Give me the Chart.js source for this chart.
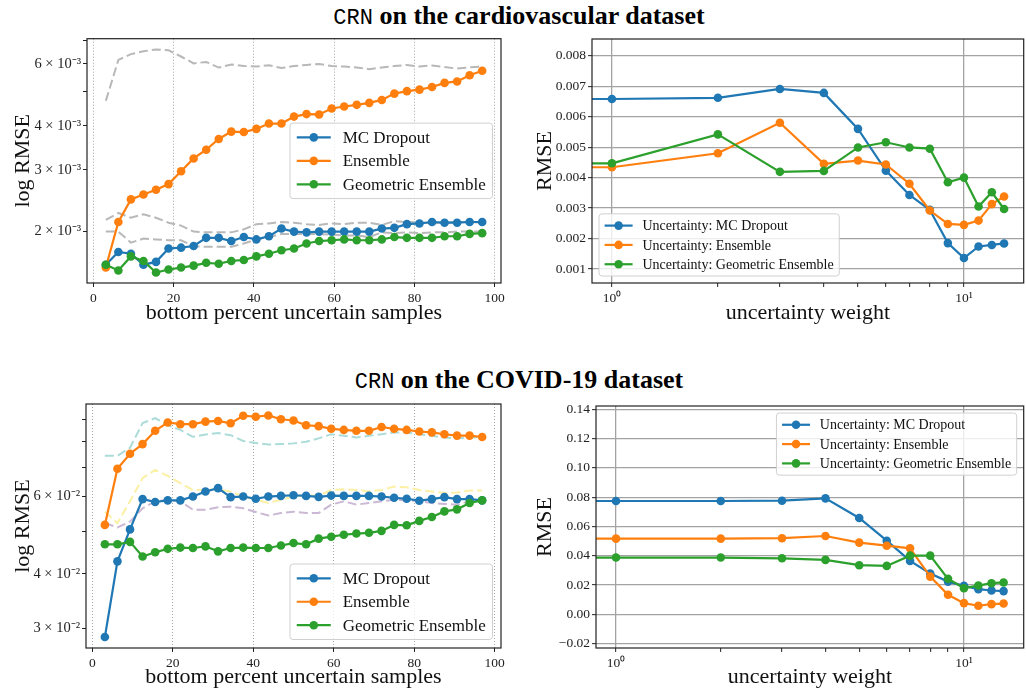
<!DOCTYPE html>
<html>
<head>
<meta charset="utf-8">
<script src="https://cdn.jsdelivr.net/npm/chart.js@4"></script>
<style>
  html, body { margin: 0; padding: 0; background: #fff; }
  body { width: 1026px; height: 689px; position: relative; overflow: hidden; }
  .title { position: absolute; left: 6px; width: 1026px; text-align: center; font: bold 26px "Liberation Serif", serif; color: #000; white-space: nowrap; }
  .title code { font: normal 22px "Liberation Mono", monospace; }
  .panel { position: absolute; }
</style>
</head>
<body>
<div class="title" style="top:1px"><code>CRN</code> on the cardiovascular dataset</div>
<div class="panel" style="left:0;top:28px;width:510px;height:304px"><canvas id="cardio-pct"></canvas></div>
<div class="panel" style="left:520px;top:28px;width:508px;height:304px"><canvas id="cardio-weight"></canvas></div>
<div class="title" style="top:365px"><code>CRN</code> on the COVID-19 dataset</div>
<div class="panel" style="left:0;top:392px;width:510px;height:304px"><canvas id="covid-pct"></canvas></div>
<div class="panel" style="left:520px;top:392px;width:508px;height:304px"><canvas id="covid-weight"></canvas></div>
<script>
// bottom percent of uncertain samples kept (x of the left panels)
var pctX = [3.125, 6.25, 9.375, 12.5, 15.625, 18.75, 21.875, 25, 28.125, 31.25, 34.375, 37.5, 40.625,
    43.75, 46.875, 50, 53.125, 56.25, 59.375, 62.5, 65.625, 68.75, 71.875, 75, 78.125, 81.25,
    84.375, 87.5, 90.625, 93.75, 96.875];
var pctTicks = [0, 20, 40, 60, 80, 100];

// cardiovascular, log RMSE
var cardioMc = [1.61e-3, 1.75e-3, 1.73e-3, 1.61e-3, 1.64e-3, 1.79e-3, 1.80e-3, 1.82e-3, 1.92e-3, 1.92e-3,
    1.88e-3, 1.93e-3, 1.90e-3, 1.94e-3, 2.04e-3, 2.00e-3, 1.99e-3, 2.00e-3, 2.00e-3, 2.00e-3, 2.00e-3,
    2.00e-3, 2.04e-3, 2.05e-3, 2.10e-3, 2.11e-3, 2.13e-3, 2.12e-3, 2.12e-3, 2.13e-3, 2.13e-3];
var cardioEns = [1.58e-3, 2.13e-3, 2.47e-3, 2.55e-3, 2.63e-3, 2.73e-3, 2.97e-3, 3.23e-3, 3.42e-3, 3.67e-3,
    3.85e-3, 3.84e-3, 3.92e-3, 4.06e-3, 4.06e-3, 4.25e-3, 4.32e-3, 4.31e-3, 4.48e-3, 4.54e-3, 4.59e-3,
    4.65e-3, 4.74e-3, 4.94e-3, 5.02e-3, 5.07e-3, 5.16e-3, 5.30e-3, 5.35e-3, 5.57e-3, 5.74e-3];
var cardioGeo = [1.61e-3, 1.55e-3, 1.70e-3, 1.65e-3, 1.53e-3, 1.56e-3, 1.58e-3, 1.60e-3, 1.63e-3, 1.62e-3,
    1.65e-3, 1.66e-3, 1.70e-3, 1.73e-3, 1.77e-3, 1.79e-3, 1.85e-3, 1.88e-3, 1.89e-3, 1.90e-3, 1.89e-3,
    1.89e-3, 1.90e-3, 1.93e-3, 1.92e-3, 1.92e-3, 1.92e-3, 1.94e-3, 1.94e-3, 1.97e-3, 1.98e-3];
// dashed grey reference curves
var cardioRefA = [4.71e-3, 6.16e-3, 6.40e-3, 6.52e-3, 6.60e-3, 6.56e-3, 6.30e-3, 6.02e-3, 6.08e-3, 5.86e-3,
    5.98e-3, 5.92e-3, 5.90e-3, 5.95e-3, 5.84e-3, 5.92e-3, 5.96e-3, 6.00e-3, 5.92e-3, 5.90e-3, 5.86e-3,
    5.80e-3, 5.86e-3, 5.92e-3, 5.96e-3, 5.90e-3, 5.94e-3, 5.88e-3, 5.82e-3, 5.87e-3, 5.90e-3];
var cardioRefB = [2.16e-3, 2.26e-3, 2.19e-3, 2.24e-3, 2.19e-3, 2.12e-3, 2.08e-3, 2.00e-3, 1.99e-3, 1.99e-3,
    1.99e-3, 2.03e-3, 2.10e-3, 2.11e-3, 2.13e-3, 2.12e-3, 2.10e-3, 2.09e-3, 2.11e-3, 2.10e-3, 2.12e-3,
    2.12e-3, 2.09e-3, 2.14e-3, 2.13e-3, 2.12e-3, 2.11e-3, 2.12e-3, 2.13e-3, 2.13e-3, 2.12e-3];
var cardioRefC = [2.00e-3, 2.00e-3, 1.86e-3, 1.91e-3, 1.90e-3, 1.89e-3, 1.89e-3, 1.82e-3, 1.81e-3, 1.81e-3,
    1.81e-3, 1.85e-3, 1.90e-3, 1.93e-3, 1.97e-3, 1.97e-3, 1.97e-3, 1.97e-3, 1.96e-3, 1.95e-3, 1.95e-3,
    1.93e-3, 1.99e-3, 1.98e-3, 1.99e-3, 1.98e-3, 1.99e-3, 1.99e-3, 2.00e-3, 2.00e-3, 2.00e-3];
var cardioLogTicks = [2e-3, 3e-3, 4e-3, 5e-3, 6e-3, 7e-3];
var cardioLogLabels = ['2 × 10⁻³', '3 × 10⁻³', '4 × 10⁻³', '', '6 × 10⁻³', ''];

// uncertainty weight (x of the right panels), 0 sits off the log axis to the left
var weights = [0, 1, 2, 3, 4, 5, 6, 7, 8, 9, 10, 11, 12, 13];
var weightTicks = [1, 2, 3, 4, 5, 6, 7, 8, 9, 10];
var weightLabels = ['10⁰', '', '', '', '', '', '', '', '', '10¹'];

var cardioWMc = [6.58e-3, 6.58e-3, 6.62e-3, 6.91e-3, 6.78e-3, 5.60e-3, 4.23e-3, 3.43e-3, 2.94e-3, 1.85e-3,
    1.36e-3, 1.74e-3, 1.79e-3, 1.84e-3];
var cardioWEns = [4.34e-3, 4.34e-3, 4.80e-3, 5.80e-3, 4.45e-3, 4.56e-3, 4.43e-3, 3.80e-3, 2.92e-3, 2.48e-3,
    2.45e-3, 2.59e-3, 3.13e-3, 3.38e-3];
var cardioWGeo = [4.47e-3, 4.47e-3, 5.42e-3, 4.19e-3, 4.22e-3, 4.99e-3, 5.16e-3, 4.99e-3, 4.95e-3, 3.85e-3,
    4.00e-3, 3.05e-3, 3.52e-3, 2.97e-3];
var cardioWTicks = [0.001, 0.002, 0.003, 0.004, 0.005, 0.006, 0.007, 0.008];

// COVID-19, log RMSE
var covidMc = [0.0287, 0.0427, 0.0505, 0.0592, 0.0583, 0.0588, 0.0588, 0.0600, 0.0616, 0.0627, 0.0598,
    0.0600, 0.0593, 0.0600, 0.0602, 0.0604, 0.0602, 0.0599, 0.0603, 0.0602, 0.0602, 0.0602, 0.0600,
    0.0596, 0.0593, 0.0587, 0.0592, 0.0598, 0.0592, 0.0592, 0.0588];
var covidEns = [0.0517, 0.0694, 0.0751, 0.0790, 0.0847, 0.0885, 0.0877, 0.0877, 0.0889, 0.0892, 0.0881,
    0.0917, 0.0912, 0.0918, 0.0900, 0.0894, 0.0872, 0.0868, 0.0856, 0.0851, 0.0847, 0.0847, 0.0864,
    0.0856, 0.0851, 0.0844, 0.0840, 0.0832, 0.0826, 0.0826, 0.0820];
var covidGeo = [0.0467, 0.0467, 0.0473, 0.0438, 0.0448, 0.0456, 0.0459, 0.0458, 0.0462, 0.0450, 0.0458,
    0.0459, 0.0458, 0.0458, 0.0464, 0.0470, 0.0467, 0.0481, 0.0486, 0.0491, 0.0494, 0.0496, 0.0501,
    0.0517, 0.0516, 0.0528, 0.0539, 0.0555, 0.0561, 0.0580, 0.0588];
var covidRefA = [0.0743, 0.0743, 0.0775, 0.0882, 0.0905, 0.0873, 0.0851, 0.0821, 0.0831, 0.0837, 0.0828,
    0.0803, 0.0795, 0.0788, 0.0790, 0.0793, 0.0800, 0.0814, 0.0832, 0.0825, 0.0818, 0.0825, 0.0832,
    0.0840, 0.0840, 0.0832, 0.0825, 0.0818, 0.0814, 0.0818, 0.0820];
var covidRefB = [0.0554, 0.0522, 0.0585, 0.0661, 0.0690, 0.0669, 0.0644, 0.0621, 0.0621, 0.0623, 0.0616,
    0.0600, 0.0590, 0.0580, 0.0590, 0.0600, 0.0605, 0.0602, 0.0621, 0.0623, 0.0621, 0.0616, 0.0621,
    0.0632, 0.0630, 0.0621, 0.0616, 0.0611, 0.0613, 0.0619, 0.0619];
var covidRefC = [0.0522, 0.0510, 0.0526, 0.0564, 0.0585, 0.0590, 0.0585, 0.0560, 0.0560, 0.0567, 0.0569,
    0.0564, 0.0553, 0.0543, 0.0550, 0.0554, 0.0550, 0.0550, 0.0575, 0.0585, 0.0575, 0.0580, 0.0585,
    0.0590, 0.0588, 0.0585, 0.0580, 0.0577, 0.0575, 0.0585, 0.0587];
var covidLogTicks = [0.03, 0.04, 0.05, 0.06, 0.07, 0.08, 0.09];
var covidLogLabels = ['3 × 10⁻²', '4 × 10⁻²', '', '6 × 10⁻²', '', '', ''];

var covidWMc = [0.0774, 0.0774, 0.0774, 0.0776, 0.0792, 0.0658, 0.0503, 0.0365, 0.0279, 0.0224, 0.0195,
    0.0172, 0.0163, 0.0159];
var covidWEns = [0.0517, 0.0517, 0.0517, 0.0520, 0.0535, 0.0490, 0.0469, 0.0451, 0.0258, 0.0134, 0.0077,
    0.0059, 0.0070, 0.0074];
var covidWGeo = [0.0388, 0.0388, 0.0388, 0.0383, 0.0372, 0.0336, 0.0331, 0.0401, 0.0401, 0.0243, 0.0179,
    0.0197, 0.0213, 0.0218];
var covidWTicks = [-0.02, 0, 0.02, 0.04, 0.06, 0.08, 0.10, 0.12, 0.14];

var BLUE = '#1f77b4', ORANGE = '#ff7f0e', GREEN = '#2ca02c';
var SERIF = '"Liberation Serif", "Times New Roman", serif';
var MARK = 4.3;
Chart.defaults.font.family = SERIF;
Chart.defaults.color = '#222';

function pairs(xs, ys) {
    return xs.map(function (x, i) { return { x: x, y: ys[i] }; });
}

function method(label, color, xs, ys, order) {
    return {
        label: label, data: pairs(xs, ys), order: order,
        borderColor: color, backgroundColor: color, borderWidth: 2.2,
        // the weight-0 point lies off the log axis: draw the line to it but no marker
        pointRadius: function (c) { return c.raw && c.raw.x === 0 ? 0 : MARK; },
        pointBorderWidth: 0, pointHoverRadius: MARK,
    };
}

function reference(color, xs, ys) {
    return {
        label: '', data: pairs(xs, ys), order: 9,
        borderColor: color, borderWidth: 2, borderDash: [9, 4], pointRadius: 0, pointHoverRadius: 0,
    };
}

// matplotlib-like closed box round the plot area
var frame = {
    id: 'frame',
    afterDatasetsDraw: function (chart) {
        var a = chart.chartArea, ctx = chart.ctx;
        ctx.save();
        ctx.strokeStyle = '#222';
        ctx.lineWidth = 1.2;
        ctx.strokeRect(a.left, a.top, a.right - a.left, a.bottom - a.top);
        ctx.restore();
    }
};

// legend drawn inside the axes, like matplotlib's
var boxLegend = {
    id: 'boxLegend',
    afterDraw: function (chart, args, o) {
        var ctx = chart.ctx, a = chart.chartArea, fs = o.size;
        var items = chart.data.datasets.filter(function (d) { return d.label; });
        ctx.save();
        ctx.font = fs + 'px ' + SERIF;
        var textW = Math.max.apply(null, items.map(function (d) { return ctx.measureText(d.label).width; }));
        var pad = 0.4 * fs, handle = 2 * fs, gap = 0.7 * fs, row = 1.38 * fs, margin = 0.5 * fs;
        var w = 2 * pad + handle + gap + textW;
        var h = 2 * pad + items.length * row - 0.5 * fs;
        var x = o.loc.indexOf('right') >= 0 ? a.right - margin - w : a.left + margin;
        var y = o.loc.indexOf('upper') === 0 ? a.top + margin
            : o.loc.indexOf('lower') === 0 ? a.bottom - margin - h : (a.top + a.bottom - h) / 2;
        ctx.beginPath();
        if (ctx.roundRect) ctx.roundRect(x, y, w, h, 3); else ctx.rect(x, y, w, h);
        ctx.fillStyle = 'rgba(255,255,255,0.8)';
        ctx.fill();
        ctx.strokeStyle = '#d0d0d0';
        ctx.lineWidth = 1;
        ctx.stroke();
        items.forEach(function (d, i) {
            var cy = y + pad + 0.44 * fs + i * row;
            var hx = x + pad;
            ctx.strokeStyle = d.borderColor;
            ctx.lineWidth = 2.2;
            ctx.beginPath();
            ctx.moveTo(hx, cy);
            ctx.lineTo(hx + handle, cy);
            ctx.stroke();
            ctx.fillStyle = d.borderColor;
            ctx.beginPath();
            ctx.arc(hx + handle / 2, cy, MARK, 0, Math.PI * 2);
            ctx.fill();
            ctx.fillStyle = '#111';
            ctx.textBaseline = 'middle';
            ctx.fillText(d.label, hx + handle + gap, cy + 1);
        });
        ctx.restore();
    }
};

var tickFont = { size: 13.5 };
var logTickFont = { size: 14.5 };
var titleFont = { size: 22 };

function pctChart(id, datasets, box, yMin, yMax, yTicks, yLabels, loc) {
    return new Chart(document.getElementById(id), {
        type: 'line',
        data: { datasets: datasets },
        options: {
            responsive: true, maintainAspectRatio: false, animation: false,
            layout: { padding: { top: box.top, right: box.right, left: 0, bottom: 0 } },
            plugins: { legend: { display: false }, tooltip: { enabled: false }, boxLegend: { loc: loc, size: 17 } },
            scales: {
                x: {
                    type: 'linear', min: -1.5625, max: 101.5625,
                    afterBuildTicks: function (s) { s.ticks = pctTicks.map(function (v) { return { value: v }; }); },
                    afterFit: function (s) { s.height = box.xh; },
                    ticks: { autoSkip: false, maxRotation: 0, padding: 3, font: tickFont, color: '#222' },
                    grid: { color: '#9a9a9a', lineWidth: 0.9, tickColor: '#222', tickLength: 4, tickWidth: 1, tickBorderDash: [] },
                    border: { display: false, dash: [1, 2] },
                    title: { display: true, text: 'bottom percent uncertain samples', font: titleFont, color: '#111', padding: { top: 0, bottom: 6 } }
                },
                y: {
                    type: 'logarithmic', min: yMin, max: yMax,
                    afterBuildTicks: function (s) { s.ticks = yTicks.map(function (v) { return { value: v }; }); },
                    afterFit: function (s) { s.width = box.yw; },
                    ticks: { autoSkip: false, padding: 2, font: logTickFont, color: '#222',
                        callback: function (v, i) { return yLabels[i]; } },
                    grid: { drawOnChartArea: false, tickColor: '#222', tickLength: 4, tickWidth: 1 },
                    border: { display: false },
                    title: { display: true, text: 'log RMSE', font: titleFont, color: '#111', padding: { top: 10, bottom: 0 } }
                }
            }
        },
        plugins: [frame, boxLegend]
    });
}

function weightChart(id, datasets, box, xMin, xMax, yMin, yMax, yTicks, yDigits, loc) {
    var gridGrey = '#a3a3a3';
    return new Chart(document.getElementById(id), {
        type: 'line',
        data: { datasets: datasets },
        options: {
            responsive: true, maintainAspectRatio: false, animation: false,
            layout: { padding: { top: box.top, right: 0, left: 0, bottom: 0 } },
            plugins: { legend: { display: false }, tooltip: { enabled: false }, boxLegend: { loc: loc, size: 14 } },
            scales: {
                x: {
                    type: 'logarithmic', min: xMin, max: xMax,
                    afterBuildTicks: function (s) { s.ticks = weightTicks.map(function (v) { return { value: v }; }); },
                    afterFit: function (s) { s.height = box.xh; },
                    ticks: { autoSkip: false, maxRotation: 0, padding: 3, font: tickFont, color: '#222',
                        callback: function (v, i) { return weightLabels[i]; } },
                    grid: {
                        color: function (c) { return c.tick && (c.tick.value === 1 || c.tick.value === 10) ? gridGrey : 'rgba(0,0,0,0)'; },
                        lineWidth: 1.3, tickColor: '#222', tickLength: 4, tickWidth: 1
                    },
                    border: { display: false },
                    title: { display: true, text: 'uncertainty weight', font: titleFont, color: '#111', padding: { top: 0, bottom: 6 } }
                },
                y: {
                    type: 'linear', min: yMin, max: yMax,
                    afterBuildTicks: function (s) { s.ticks = yTicks.map(function (v) { return { value: v }; }); },
                    afterFit: function (s) { s.width = box.yw; },
                    ticks: { autoSkip: false, padding: 2, font: tickFont, color: '#222',
                        callback: function (v) { return v.toFixed(yDigits).replace('-', '\u2212'); } },
                    grid: { color: gridGrey, lineWidth: 1.3, tickColor: '#222', tickLength: 4, tickWidth: 1 },
                    border: { display: false },
                    title: { display: true, text: 'RMSE', font: titleFont, color: '#111', padding: { top: 12, bottom: 0 } }
                }
            }
        },
        plugins: [frame, boxLegend]
    });
}

pctChart('cardio-pct', [
    method('MC Dropout', BLUE, pctX, cardioMc, 3),
    method('Ensemble', ORANGE, pctX, cardioEns, 2),
    method('Geometric Ensemble', GREEN, pctX, cardioGeo, 1),
    reference('#b8b8b8', pctX, cardioRefA),
    reference('#b8b8b8', pctX, cardioRefB),
    reference('#b8b8b8', pctX, cardioRefC),
], { top: 10, right: 9, yw: 87, xh: 49 }, 1.428e-3, 7.08e-3, cardioLogTicks, cardioLogLabels, 'center right');

weightChart('cardio-weight', [
    method('Uncertainty: MC Dropout', BLUE, weights, cardioWMc, 3),
    method('Uncertainty: Ensemble', ORANGE, weights, cardioWEns, 2),
    method('Uncertainty: Geometric Ensemble', GREEN, weights, cardioWGeo, 1),
], { top: 11, yw: 72, xh: 49 }, 0.878, 14.78, 0.000541, 0.00855, cardioWTicks, 3, 'lower left');

pctChart('covid-pct', [
    method('MC Dropout', BLUE, pctX, covidMc, 3),
    method('Ensemble', ORANGE, pctX, covidEns, 2),
    method('Geometric Ensemble', GREEN, pctX, covidGeo, 1),
    reference('#acdcd8', pctX, covidRefA),
    reference('#fbf0a4', pctX, covidRefB),
    reference('#cbb8d4', pctX, covidRefC),
], { top: 12, right: 9, yw: 86, xh: 48 }, 0.0271, 0.0975, covidLogTicks, covidLogLabels, 'lower right');

weightChart('covid-weight', [
    method('Uncertainty: MC Dropout', BLUE, weights, covidWMc, 3),
    method('Uncertainty: Ensemble', ORANGE, weights, covidWEns, 2),
    method('Uncertainty: Geometric Ensemble', GREEN, weights, covidWGeo, 1),
], { top: 14, yw: 76, xh: 48 }, 0.876, 14.85, -0.02293, 0.14225, covidWTicks, 2, 'upper right');
</script>
</body>
</html>
